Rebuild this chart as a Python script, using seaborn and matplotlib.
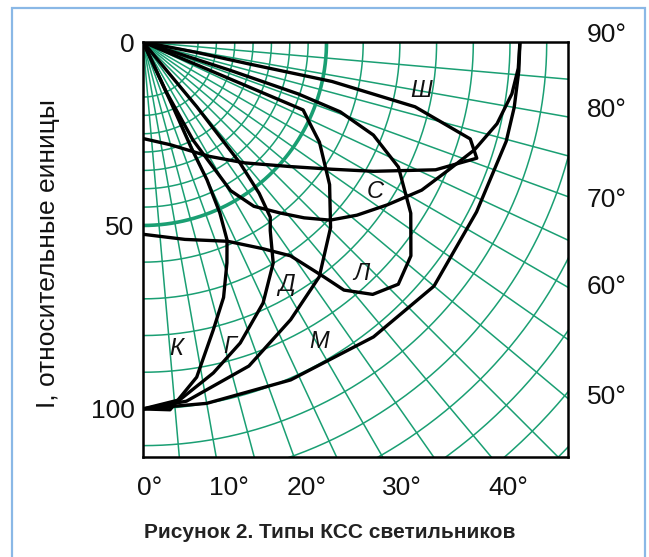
import numpy as np
import pandas as pd
import matplotlib
matplotlib.use("Agg")
import matplotlib.pyplot as plt
from matplotlib.patches import Rectangle
import seaborn as sns

# КСС: path of each curve as (angle from the vertical, deg) and relative intensity
K_ANG = [0, 4.2, 9.1, 13.7, 17.5, 20.8, 23, 24.2, 24.9, 24.5, 24.8, 25]
K_I = [100, 100.5, 92.5, 80.8, 73, 64.4, 58.6, 51.1, 41.4, 32, 19.5, 0]
G_ANG = [0, 5.9, 12, 17.9, 24.7, 30.5, 34, 36, 37.5, 38.7, 39.7, 40]
G_I = [100, 98, 92.2, 86.2, 78.3, 69.9, 62, 59, 52, 42.3, 23, 0]
D_ANG = [0, 6.9, 18.1, 28, 36.9, 45.3, 52.6, 60.4, 64.5, 67, 67, 67]
D_I = [100, 98.6, 92.9, 85.7, 80, 71.9, 64, 55.3, 50, 47.4, 30, 0]
L_ANG = [0, 12, 23, 30, 34.6, 37.6, 39, 42.3, 46.5, 51.4, 57.4, 63.9, 68, 70.5, 71.5, 72, 72]
L_I = [52.4, 55, 59, 65, 70.8, 80.8, 87, 93, 95.9, 93.4, 86.6, 77.5, 67.7, 57, 44.6, 25, 0]
SH_ANG = [0, 15, 29.5, 40, 49.8, 56, 60.7, 66.4, 70.8, 73.5, 76.6, 78.2, 78.3, 79, 79.5]
SH_I = [26.3, 29, 35.7, 43, 52.6, 62, 72, 87, 96.3, 93, 76.2, 52.6, 29.5, 15, 0]
M_ANG = [0, 10, 23.6, 38, 50, 63, 74.7, 80, 85.6, 90]
M_I = [100, 100, 100.5, 102, 103.5, 102, 102.6, 102.7, 102.7, 102.7]
S_ANG = [24, 25, 27, 30.5, 34, 38.7, 42.5, 46.4, 51, 56.3, 62, 67.2, 72, 77, 82, 86, 90]
S_I = [0, 15, 30, 47, 54, 59.7, 65, 70.4, 75, 80, 86, 90.2, 95, 99, 101.5, 102.5, 102.7]

CURVE_NAMES = ["К", "Г", "Д", "Л", "Ш", "М", "С"]
LABEL_X = [9.1, 23.6, 39.0, 59.4, 75.7, 48.1, 63.4]
LABEL_Y = [83.4, 82.9, 66.0, 63.1, 13.2, 81.5, 40.8]

I_TICKS = [0, 50, 100]
BOTTOM_TEXT = ["0°", "10°", "20°", "30°", "40°"]
BOTTOM_X = [1.9, 23.4, 44.7, 70.6, 99.5]
RIGHT_TEXT = ["90°", "80°", "70°", "60°", "50°"]
RIGHT_Y = [-1.9, 18.5, 43.0, 66.8, 96.7]

GRID_ANGLES = list(range(0, 91, 5))
GRID_RADII = [15, 20, 25, 30, 35, 40, 45, 60, 70, 80, 90, 100, 110, 120, 130, 140, 150, 160]
BOLD_RADIUS = 50

GREEN = "#1a9f73"
INK = "#111111"

sns.set_theme(style="white")
plt.rcParams["font.family"] = ["Liberation Sans", "DejaVu Sans"]

curves = [K_ANG, G_ANG, D_ANG, L_ANG, SH_ANG, M_ANG, S_ANG]
values = [K_I, G_I, D_I, L_I, SH_I, M_I, S_I]
rows = []
for name, ang, inten in zip(CURVE_NAMES, curves, values):
    for k, (a, i) in enumerate(zip(ang, inten)):
        t = np.radians(a)
        rows.append({"curve": name, "order": k, "x": i * np.sin(t), "y": i * np.cos(t)})
df = pd.DataFrame(rows)

fig = plt.figure(figsize=(6.49, 5.57), dpi=100)
ax = fig.add_axes([143 / 649, 1 - 457 / 557, 425 / 649, 415 / 557])

# polar grid (origin in the top left corner, 0° pointing down)
for a in GRID_ANGLES:
    t = np.radians(a)
    ax.plot([0, 175 * np.sin(t)], [0, 175 * np.cos(t)], color=GREEN, lw=1.1, zorder=1)
tt = np.radians(np.linspace(0, 90, 200))
for r in GRID_RADII:
    ax.plot(r * np.sin(tt), r * np.cos(tt), color=GREEN, lw=1.1, zorder=1)
ax.plot(BOLD_RADIUS * np.sin(tt), BOLD_RADIUS * np.cos(tt), color=GREEN, lw=2.6, zorder=1)

sns.lineplot(data=df, x="x", y="y", hue="curve", palette=["black"] * len(CURVE_NAMES),
             sort=False, estimator=None, legend=False, lw=2.4, ax=ax, zorder=3)
for ln in ax.lines[-len(CURVE_NAMES):]:
    ln.set_solid_joinstyle("round")
    ln.set_solid_capstyle("round")

for name, lx, ly in zip(CURVE_NAMES, LABEL_X, LABEL_Y):
    ax.text(lx, ly, name, fontsize=17, fontstyle="italic", ha="center", va="center",
            color=INK, zorder=4)

ax.set_xlim(0, 115.8)
ax.set_ylim(113.1, 0)
ax.set_xticks([])
ax.set_yticks(I_TICKS)
ax.set_yticklabels([str(v) for v in I_TICKS], fontsize=19, color=INK)
ax.tick_params(axis="y", length=0, pad=6)
ax.set_xlabel("")
ax.set_ylabel("")
for s in ax.spines.values():
    s.set_color("black")
    s.set_linewidth(1.8)
    s.set_zorder(5)

for txt, bx in zip(BOTTOM_TEXT, BOTTOM_X):
    ax.text(bx, 121.5, txt, fontsize=19, ha="center", va="center", color=INK, clip_on=False)
for txt, ry in zip(RIGHT_TEXT, RIGHT_Y):
    ax.text(121.0, ry, txt, fontsize=19, ha="left", va="center", color=INK, clip_on=False)

fig.text(48 / 649, 1 - 254 / 557, "I, относительные еиницы", rotation=90, fontsize=19,
         ha="center", va="center", color=INK)
fig.text(330 / 649, 1 - 533 / 557, "Рисунок 2. Типы КСС светильников", fontsize=15,
         fontweight="bold", ha="center", va="center", color="#222222")

fig.patches.append(Rectangle((12 / 649, -0.05), 633 / 649, 1.05 - 8 / 557, transform=fig.transFigure,
                             fill=False, edgecolor="#8ab8e6", lw=1.6))

fig.savefig("out.png", dpi=100, facecolor="white")
